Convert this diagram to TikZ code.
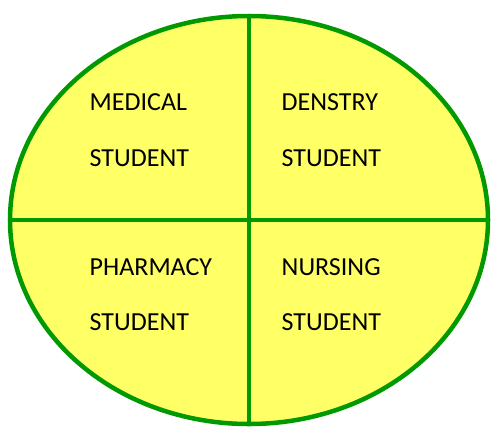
\documentclass[tikz,border=0pt]{standalone}
\usepackage{fontspec}
\setmainfont{Carlito}
\usetikzlibrary{shapes.geometric}
\definecolor{fillyellow}{RGB}{255,255,102}
\definecolor{edgegreen}{RGB}{0,153,0}
\begin{document}
\begin{tikzpicture}[x=1bp,y=1bp,
  divline/.style={draw=edgegreen,line width=4.5bp},
  label/.style={anchor=base west,inner sep=0pt,font=\fontsize{26bp}{30bp}\selectfont,text=black}]
\useasboundingbox (0,0) rectangle (491,427);
\node[ellipse,draw=edgegreen,fill=fillyellow,line width=4.5bp,inner sep=0pt,
      minimum width=478bp,minimum height=408bp] (e) at (249,207) {};
\draw[divline] (e.north) -- (e.south);
\draw[divline] (e.west) -- (e.east);
\node[label] (m1) at (89.5,316.5) {MEDICAL};
\node[label] (m2) at (89.5,261) {STUDENT};
\node[label] (d1) at (281.5,316.5) {DENSTRY};
\node[label] (d2) at (281.5,261) {STUDENT};
\node[label] (p1) at (89.5,152) {PHARMACY};
\node[label] (p2) at (89.5,97) {STUDENT};
\node[label] (n1) at (281.5,152) {NURSING};
\node[label] (n2) at (281.5,97) {STUDENT};
\end{tikzpicture}
\end{document}
